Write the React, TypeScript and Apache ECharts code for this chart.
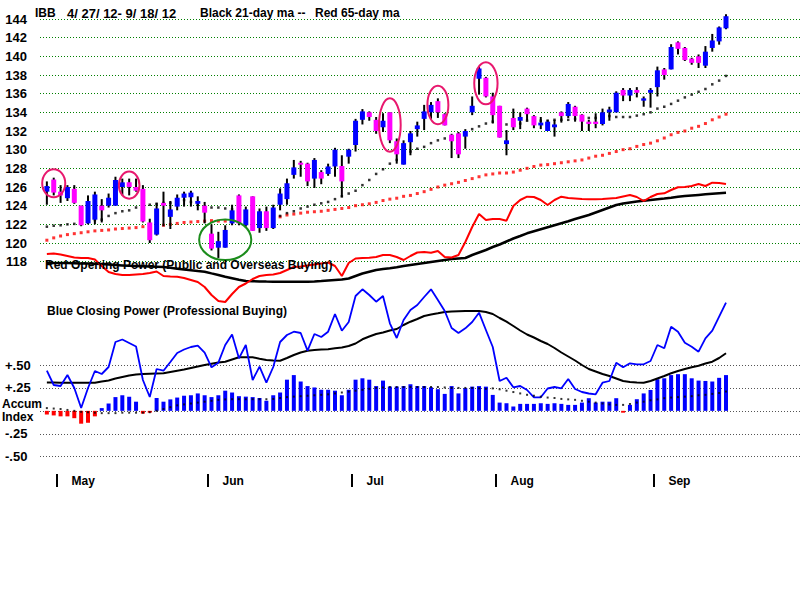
import { useEffect, useRef } from 'react';
import * as echarts from 'echarts';

// ---- Candles (index 0 = 4/27/12 ... index 99 = 9/18/12) ----
const opens = [125.5,126.8,125.5,124.8,125.8,124.0,122.1,122.5,124.0,124.0,124.0,126.0,126.5,126.0,125.8,122.2,120.9,124.3,122.8,123.9,124.85,124.9,124.2,124.0,121.0,119.5,119.5,122.1,125.1,121.9,125.0,121.6,123.4,121.6,124.1,124.7,127.3,128.6,128.5,126.9,127.6,127.4,128.2,128.25,129.25,130.5,133.2,134.0,133.2,132.4,134.0,130.9,128.4,130.8,132.2,133.3,134.0,135.2,133.8,131.6,131.75,131.4,134.0,137.6,137.7,135.7,134.7,130.6,133.4,133.1,134.4,133.6,132.6,132.0,132.4,134.0,133.6,134.6,133.75,133.0,133.0,132.75,134.0,134.0,136.4,135.8,136.4,135.25,136.1,136.7,138.6,138.6,141.5,140.9,139.75,140.0,139.0,140.9,141.6,143.0];
const closes = [126.1,125.4,125.1,126.0,124.3,121.9,124.5,125.2,123.5,124.85,126.75,126.5,126.0,125.6,122.3,120.3,123.7,124.0,123.6,124.85,125.3,125.4,124.5,123.25,119.4,120.2,121.4,123.5,122.1,123.6,121.3,123.4,121.6,123.8,125.3,126.4,128.1,128.4,126.6,128.9,126.9,128.2,130.0,126.6,130.0,133.1,134.1,133.5,132.0,133.1,131.0,129.5,130.7,131.75,132.6,134.1,134.8,134.0,132.6,130.9,129.5,132.0,134.7,138.7,135.7,133.7,131.3,131.0,132.4,133.5,133.8,132.6,132.9,133.0,132.7,133.6,134.9,133.6,133.0,132.75,132.75,134.0,134.3,136.1,135.8,136.4,136.1,135.5,136.4,138.5,138.0,141.0,140.8,139.6,139.3,139.3,140.5,141.7,143.1,144.3];
const highs = [126.6,127.0,126.2,126.2,126.2,124.0,125.1,125.5,124.7,125.3,127.1,126.9,126.9,126.9,126.2,122.6,124.3,125.5,124.5,125.2,125.5,125.6,125.0,124.4,122.0,121.2,121.9,124.1,125.2,123.9,125.0,123.7,123.9,124.1,125.85,126.9,128.9,128.8,128.6,129.1,127.8,128.5,130.2,129.4,130.1,133.3,134.35,134.1,133.5,133.9,134.0,131.2,131.0,132.0,133.0,134.8,135.1,135.5,133.9,131.7,131.9,132.2,135.7,138.9,137.8,136.1,134.7,132.1,134.4,134.0,134.5,133.7,133.5,133.2,133.2,134.1,135.1,134.7,133.8,133.2,133.9,134.4,134.6,136.25,136.6,136.6,136.7,135.7,136.6,138.9,138.75,141.3,141.6,141.0,139.85,140.2,141.1,142.4,143.2,144.5];
const lows = [124.1,125.1,124.3,124.5,124.2,121.8,122.0,122.0,122.2,123.8,124.0,125.1,125.1,125.5,122.2,120.0,120.8,121.8,121.5,123.5,123.9,123.9,123.5,122.1,119.2,118.4,119.5,121.9,121.9,121.75,121.3,121.1,121.3,121.5,123.5,124.1,126.9,127.1,126.1,125.9,126.3,127.2,127.1,124.9,128.5,129.8,132.7,133.1,131.7,131.9,130.7,128.5,128.4,129.4,131.4,132.1,133.3,133.4,132.6,129.1,129.1,130.1,133.7,135.9,135.6,132.8,131.3,129.4,132.1,132.2,133.1,132.3,132.2,132.0,131.4,132.9,133.4,133.0,132.0,132.0,132.3,132.6,133.1,134.0,135.2,135.2,135.6,134.6,134.5,135.7,137.5,138.6,140.2,139.5,139.1,138.75,138.75,140.5,141.25,142.9];

// ---- Moving averages of price (dotted) ----
const ma21 = [121.75,121.85,121.9,122.0,122.05,122.2,122.35,122.45,122.5,122.9,123.2,123.4,123.5,123.8,124.0,124.1,124.2,124.3,124.3,124.5,124.6,124.4,124.1,123.9,123.8,123.8,123.7,123.6,123.4,123.3,123.2,123.1,122.9,122.9,122.9,123.2,123.4,123.7,123.9,124.1,124.25,124.4,124.7,125.0,125.3,125.6,126.2,126.75,127.4,127.9,128.5,128.9,129.3,129.8,130.1,130.3,130.7,131.0,131.2,131.4,131.6,131.8,132.2,132.5,132.8,133.0,132.9,132.7,132.7,132.8,133.1,133.1,133.1,133.1,133.2,133.2,133.2,133.3,133.3,133.4,133.4,133.5,133.6,133.5,133.5,133.5,133.65,133.8,134.0,134.4,134.6,134.9,135.25,135.6,135.9,136.2,136.5,137.0,137.4,137.9];
const ma65 = [120.3,120.55,120.75,120.9,121.0,121.1,121.2,121.3,121.35,121.4,121.5,121.55,121.6,121.65,121.75,121.8,121.85,121.9,122.0,122.1,122.2,122.25,122.3,122.35,122.4,122.35,122.35,122.4,122.45,122.5,122.55,122.6,122.65,122.7,122.8,123.0,123.1,123.2,123.3,123.35,123.4,123.5,123.6,123.7,123.8,124.0,124.1,124.2,124.35,124.55,124.7,124.8,125.0,125.1,125.3,125.5,125.75,126.0,126.2,126.35,126.5,126.7,126.9,127.1,127.3,127.4,127.5,127.5,127.6,127.8,128.0,128.2,128.35,128.4,128.5,128.6,128.7,128.8,128.9,129.1,129.3,129.4,129.6,129.8,130.0,130.1,130.35,130.55,130.7,130.95,131.25,131.6,131.85,132.0,132.3,132.5,132.8,133.2,133.5,133.8];

// ---- Red Opening Power and its MA (relative units) ----
const openPower = [56,56.5,55.5,54,52.5,52,52,50.5,44,38,36,35,35,35.5,36,37,38.5,34,33.5,33.3,32,30,28,23,15,9,8,16,23,26.5,31,34,35,35.5,37,40,43,43.5,44.5,45.5,46.5,47.5,44,34,47,51.5,52,52.3,53,55,55,53,50,54,57.5,58,57.3,59,53,52.5,55,68,83,96,90,91,91,89.3,104,110,113.3,113,110,105,110,113.3,112,111.5,111,110.7,110.7,111,111.5,112,113.5,115,113,109,113,116,116.7,120,122.7,123,124,126,124,127.3,127,126];
const openPowerMa = [47,47,47,47,46.8,46.6,46.4,46.2,46,45.6,45,44.6,44.2,44,43.7,43.4,43.2,43,42.2,41.3,40.5,39.7,38.9,38.3,36.6,35,33.3,31.8,30.3,29,28.8,28.6,28.4,28.3,28.3,28.3,28.3,28.3,28.3,28.6,29,29.5,30,30.5,31.5,34,36.5,38.3,40,41,41.7,42.7,44,45,46,47,48,49,50,51,51.5,52,55,57.5,60,63,65.5,68.5,71.5,74,76.7,78.7,80.7,82.7,84.7,86.7,88.7,91,93,95,97.5,100,102.5,105,106.5,107.5,108.5,109.3,110,110.8,111.5,112.3,113.3,113.9,114.5,115.1,115.7,116.3,116.8,117.3];

// ---- Blue Closing Power and its MA (relative units) ----
const closePower = [49.3,35,34,45,32,12,32,49,46,53,78,80.5,77,73.5,40,23,51,49.3,58,67,70.5,73,74.3,67.3,52.7,57.3,75,85.5,61.7,75,40,53.3,37.3,53,78,85,88.3,87,69.3,86,83,88.3,106,89.3,98,124,130.7,125,118.3,124,96.7,82,100,110,115,123,130.7,120,109,92,87,91.7,98,107.3,90,73,39,42.3,32.7,34,30,22.7,22.7,31.5,33,31.7,41,31,28,26.5,25.7,37.3,39,57.3,52.7,56.7,55.7,55.7,59,75,71.7,93.3,88.3,77.3,73.3,68.3,81.7,89.3,103.3,117.3];
const closePowerMa = [37.5,37.5,37.3,37.3,37.3,37.3,37.3,37.3,38.5,39.5,41.5,43,44.5,45.5,46,46.3,46.5,46.7,48,49.3,50.5,52,53.5,55,56.3,57.5,58.3,60.5,62.7,62.7,62.7,61.3,60,59.5,59.3,62,65,67.5,69.3,70,70.5,70.8,71.7,72.5,74,76.5,80.7,83.5,86,87.5,89.5,91,95,98.3,101,104,105.5,106.7,108,108.5,108.7,108.9,109,109,108,106,102,98.3,94,89.5,85.5,82.5,79,76,72,67.5,63.5,59.5,55,51,48.5,46,44,41.5,39,38,37.5,37.3,39,41.5,44,46.7,49,51,52.7,54.3,56.5,58.3,62,66.7];

// ---- Accumulation Index and its MA ----
const accumIndex = [-0.04,-0.05,-0.06,-0.06,-0.08,-0.14,-0.13,-0.06,0.03,0.08,0.15,0.17,0.155,0.10,-0.03,-0.02,0.14,0.10,0.125,0.145,0.165,0.17,0.19,0.17,0.15,0.17,0.22,0.20,0.16,0.155,0.15,0.14,0.11,0.17,0.20,0.34,0.39,0.32,0.27,0.255,0.23,0.23,0.22,0.17,0.23,0.34,0.355,0.34,0.27,0.33,0.265,0.265,0.27,0.29,0.27,0.27,0.257,0.236,0.185,0.27,0.19,0.247,0.264,0.27,0.264,0.174,0.09,0.083,0.047,0.076,0.076,0.076,0.083,0.076,0.083,0.076,0.065,0.065,0.09,0.138,0.09,0.10,0.10,0.138,-0.02,0.065,0.127,0.19,0.228,0.345,0.355,0.39,0.40,0.40,0.355,0.33,0.326,0.32,0.36,0.39];
const accumMa = [0.03,0.025,0.02,0.01,0.0,-0.01,-0.015,-0.02,-0.025,-0.025,-0.025,-0.02,-0.02,-0.02,-0.02,-0.015,0.0,0.02,0.04,0.06,0.07,0.08,0.09,0.1,0.11,0.12,0.125,0.127,0.127,0.127,0.127,0.127,0.127,0.13,0.14,0.15,0.155,0.16,0.165,0.17,0.175,0.18,0.19,0.2,0.21,0.22,0.23,0.24,0.25,0.255,0.26,0.26,0.26,0.26,0.26,0.26,0.26,0.26,0.255,0.25,0.25,0.25,0.25,0.245,0.24,0.245,0.235,0.22,0.205,0.19,0.175,0.165,0.155,0.145,0.14,0.13,0.125,0.12,0.11,0.1,0.09,0.08,0.07,0.065,0.065,0.075,0.09,0.1,0.115,0.125,0.138,0.145,0.15,0.155,0.16,0.17,0.175,0.185,0.195,0.21];

// ---- Axis labels ----
const monthStartIdx = [2, 24, 45, 66, 89];
const monthNames = ['May', 'Jun', 'Jul', 'Aug', 'Sep'];
const accumLabels: Record<string, string> = { '0.5': '+.50', '0.25': '+.25', '0': '', '-0.25': '-.25', '-0.5': '-.50' };

// ---- Annotation ellipses: [candleIdx, centerPrice, halfWidthDays, halfHeightPrice] ----
const pinkCircles = [[1, 126.4, 1.68, 1.5], [12, 126.2, 1.5, 1.45], [50, 132.64, 1.58, 2.86], [57, 134.79, 1.53, 2.07], [64, 137.11, 1.7, 2.25]];
const greenCircles = [[26, 120.35, 3.8, 2.18]];

const SLOTS = 112;
const FONT = '"Liberation Sans", Arial, sans-serif';

export default function App() {
  const ref = useRef<HTMLDivElement>(null);
  useEffect(() => {
    if (!ref.current) return;
    const chart = echarts.init(ref.current, undefined, { renderer: 'svg' });
    const cats = Array.from({ length: SLOTS }, (_, k) => String(k));
    const monthCats = Array.from({ length: SLOTS - 1 }, (_, k) => String(k));
    const W = 6.86 * (SLOTS - 1);
    const pair = (arr: number[]) => arr.map((v, i) => [i + 1, v]);
    const candleData = opens.map((o, i) => [i + 1, o, closes[i], lows[i], highs[i]]);
    const ellipseData = [
      ...pinkCircles.map((c) => [c[0] + 1, c[1], c[2], c[3], 0]),
      ...greenCircles.map((c) => [c[0] + 1, c[1], c[2], c[3], 1]),
    ];
    const gridBase = { left: 40, width: W, containLabel: false, outerBoundsMode: 'none' } as any;
    const hiddenX = (gi: number) => ({
      type: 'category', gridIndex: gi, data: cats, boundaryGap: false,
      axisLine: { show: false }, axisTick: { show: false }, axisLabel: { show: false }, splitLine: { show: false },
    });
    const txt = (text: string, x: number, y: number, size = 12) => ({
      type: 'text', x, y, z: 100,
      style: { text, fill: '#000', font: `bold ${size}px ${FONT}`, verticalAlign: 'middle', textVerticalAlign: 'middle' },
    });
    const option: any = {
      animation: false,
      backgroundColor: '#ffffff',
      grid: [
        { ...gridBase, top: 19, height: 242.67 },
        { ...gridBase, top: 160, height: 150 },
        { ...gridBase, top: 270, height: 150 },
        { ...gridBase, top: 365, height: 91.7 },
        { left: 43.43, width: W, top: 440, height: 34, containLabel: false, outerBoundsMode: 'none' },
      ],
      xAxis: [
        hiddenX(0), hiddenX(1), hiddenX(2), hiddenX(3),
        {
          type: 'category', gridIndex: 4, data: monthCats, boundaryGap: true,
          axisLine: { show: false },
          axisTick: { show: true, alignWithLabel: false, length: 13, interval: (idx: number) => monthStartIdx.includes(idx), lineStyle: { color: '#000', width: 2 } },
          axisLabel: {
            show: true, interval: (idx: number) => monthStartIdx.includes(idx),
            formatter: (_v: string, idx: number) => monthNames[monthStartIdx.indexOf(idx)] ?? '',
            align: 'left', padding: [0, 0, 0, 11], margin: 1, color: '#000', fontSize: 12, fontWeight: 'bold', fontFamily: FONT,
          },
          splitLine: { show: false },
        },
      ],
      yAxis: [
        {
          type: 'value', gridIndex: 0, min: 118, max: 144, interval: 2,
          axisLine: { show: false }, axisTick: { show: false },
          axisLabel: { color: '#000', fontSize: 13, fontWeight: 'bold', fontFamily: FONT, margin: 13 },
          splitLine: { show: true, lineStyle: { color: '#008000', type: [1, 2], width: 1 } },
        },
        { type: 'value', gridIndex: 1, min: 0, max: 150, show: false, splitLine: { show: false } },
        { type: 'value', gridIndex: 2, min: 0, max: 150, show: false, splitLine: { show: false } },
        {
          type: 'value', gridIndex: 3, min: -0.5, max: 0.5, interval: 0.25,
          axisLine: { show: false }, axisTick: { show: false },
          axisLabel: {
            color: '#000', fontSize: 13, fontWeight: 'bold', fontFamily: FONT, margin: 35, align: 'left',
            formatter: (v: number) => accumLabels[String(Math.round(v * 100) / 100)] ?? '',
          },
          splitLine: { show: true, lineStyle: { color: '#555', type: [1, 2], width: 1 } },
        },
        { type: 'value', gridIndex: 4, show: false, splitLine: { show: false } },
      ],
      series: [
        {
          type: 'scatter', xAxisIndex: 0, yAxisIndex: 0, data: pair(ma65), symbol: 'rect', symbolSize: 3,
          itemStyle: { color: '#ff0000' }, z: 3,
        },
        {
          type: 'scatter', xAxisIndex: 0, yAxisIndex: 0, data: pair(ma21), symbol: 'rect', symbolSize: 2.5,
          itemStyle: { color: '#000000' }, z: 3,
        },
        {
          type: 'custom', xAxisIndex: 0, yAxisIndex: 0, data: candleData, encode: { x: 0, y: [1, 2, 3, 4] }, z: 4,
          renderItem: (_p: any, api: any) => {
            const xi = api.value(0), o = api.value(1), c = api.value(2), l = api.value(3), h = api.value(4);
            const po = api.coord([xi, o]), pc = api.coord([xi, c]), pl = api.coord([xi, l]), ph = api.coord([xi, h]);
            const x = po[0];
            const top = Math.min(po[1], pc[1]);
            const bot = Math.max(po[1], pc[1]);
            return {
              type: 'group', children: [
                { type: 'line', shape: { x1: x, y1: ph[1], x2: x, y2: pl[1] }, style: { stroke: '#000', lineWidth: 2 } },
                { type: 'rect', shape: { x: x - 2.5, y: top, width: 5, height: Math.max(bot - top, 2) }, style: { fill: c >= o ? '#0000ff' : '#ff00ff' } },
              ],
            };
          },
        },
        {
          type: 'custom', xAxisIndex: 0, yAxisIndex: 0, data: ellipseData, z: 5, silent: true,
          renderItem: (_p: any, api: any) => {
            const xi = api.value(0), pc = api.value(1), rxd = api.value(2), ryp = api.value(3), kind = api.value(4);
            const c = api.coord([xi, pc]);
            const t = api.coord([xi, pc + ryp]);
            const bw = api.size([1, 0])[0];
            return {
              type: 'ellipse',
              shape: { cx: c[0], cy: c[1], rx: bw * rxd, ry: Math.abs(c[1] - t[1]) },
              style: { fill: 'none', stroke: kind === 1 ? '#1c8c1c' : '#e8186e', lineWidth: 2 },
            };
          },
        },
        {
          type: 'line', xAxisIndex: 1, yAxisIndex: 1, data: pair(openPowerMa), showSymbol: false,
          lineStyle: { color: '#000', width: 2.5 }, z: 3,
        },
        {
          type: 'line', xAxisIndex: 1, yAxisIndex: 1, data: pair(openPower), showSymbol: false,
          lineStyle: { color: '#ff0000', width: 2 }, z: 3,
        },
        {
          type: 'line', xAxisIndex: 2, yAxisIndex: 2, data: pair(closePowerMa), showSymbol: false,
          lineStyle: { color: '#000', width: 2 }, z: 3,
        },
        {
          type: 'line', xAxisIndex: 2, yAxisIndex: 2, data: pair(closePower), showSymbol: false,
          lineStyle: { color: '#0000ff', width: 1.8 }, z: 3,
        },
        {
          type: 'bar', xAxisIndex: 3, yAxisIndex: 3, data: pair(accumIndex), barWidth: 4,
          itemStyle: { color: (p: any) => (p.value[1] < 0 ? '#ff0000' : '#0000ff') }, z: 3,
        },
        {
          type: 'scatter', xAxisIndex: 3, yAxisIndex: 3, data: pair(accumMa), symbol: 'rect', symbolSize: 2,
          itemStyle: { color: '#000' }, z: 4,
        },
      ],
      graphic: [
        txt('IBB', 35, 13),
        txt('4/ 27/ 12- 9/ 18/ 12', 67, 13, 13),
        txt('Black 21-day ma --', 200, 13),
        txt('Red 65-day ma', 315, 13),
        txt('Red Opening Power (Public and Overseas Buying)', 45, 265),
        txt('Blue Closing Power (Professional Buying)', 47, 311),
        txt('Accum', 2, 404),
        txt('Index', 2, 417),
      ],
    };
    chart.setOption(option);
    return () => chart.dispose();
  }, []);
  return <div ref={ref} style={{ position: 'absolute', left: 0, top: 0, width: 800, height: 600, background: '#fff' }} />;
}
